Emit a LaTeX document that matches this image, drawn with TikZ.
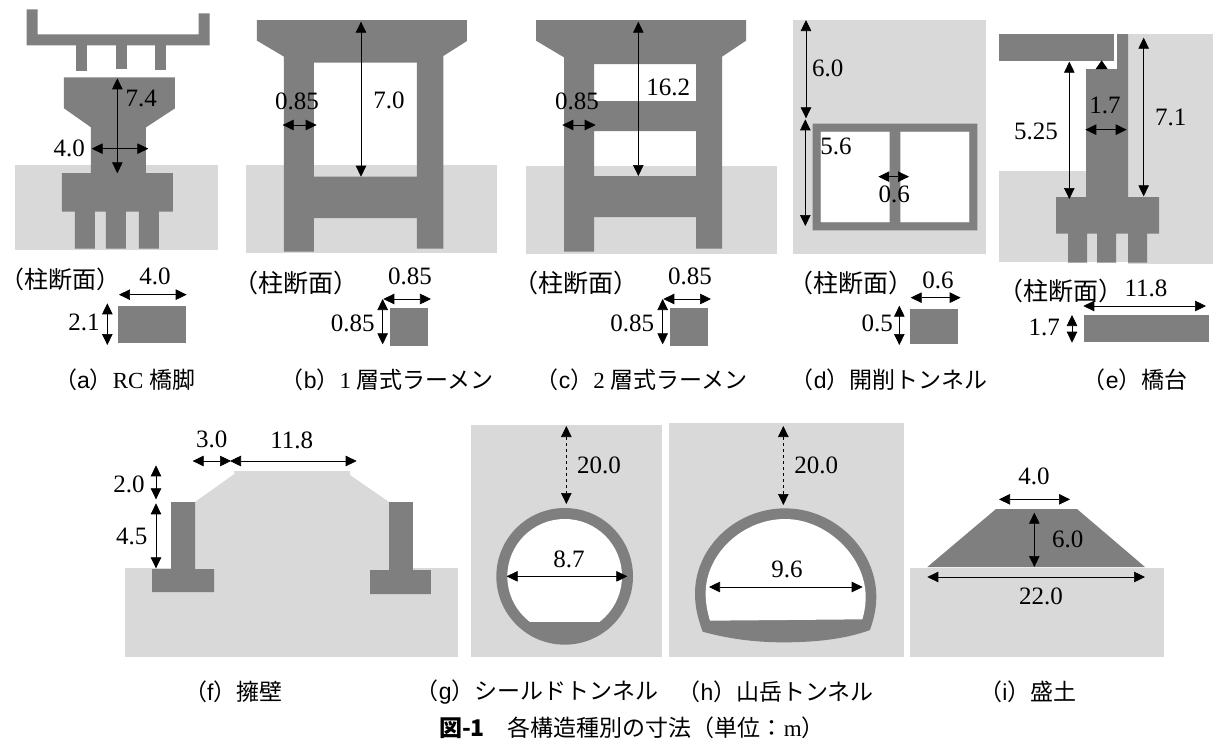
\documentclass[tikz,border=0pt]{standalone}
\usepackage{fontspec}
\usetikzlibrary{arrows.meta}
\setmainfont{Liberation Serif}
\setsansfont{Liberation Sans}
\newfontfamily\jpf{Noto Sans CJK JP}
\definecolor{conc}{HTML}{7F7F7F}
\definecolor{soil}{HTML}{D9D9D9}
\newcommand{\capt}[1]{{\jpf （}\textsf{#1}{\jpf ）}}
\tikzset{
  zoomed/.style n args={2}{shift={(#1,#2)},x=0.33333pt,y=-0.33333pt},
  soilfill/.style={fill=soil,draw=none},
  concfill/.style={fill=conc,draw=none,even odd rule},
  dimline/.style={{Triangle[length=11pt,width=10.5pt]}-{Triangle[length=11pt,width=10.5pt]},line width=0.7pt,black},
  lbl/.style={inner sep=0pt,font=\fontsize{25}{30}\selectfont},
  capn/.style={inner sep=0pt,font=\fontsize{23}{28}\selectfont},
  sec/.style={inner sep=0pt,font=\fontsize{25}{30}\selectfont\jpf}
}
\begin{document}
\begin{tikzpicture}[x=1pt,y=-1pt]
\useasboundingbox (0,0) rectangle (1213,740);
\fill[white] (0,0) rectangle (1213,740);

% ---------- panels a, b
\begin{scope}[zoomed={0}{0}]
\fill[soilfill] (45,495) rectangle (654,749);
\fill[concfill] (80,28)--(113,28)--(113,103)--(596,103)--(596,40)--(629,40)--(629,136)--(80,136)--cycle;
\fill[concfill] (227,136) rectangle (260,212);
\fill[concfill] (349,136) rectangle (382,207);
\fill[concfill] (465,136) rectangle (498,211);
\fill[concfill] (192,232)--(525,232)--(525,325)--(438,382)--(438,519)--(519,519)--(519,635)--(477,635)--(477,746)--(417,746)--(417,635)--(378,635)--(378,746)--(318,746)--(318,635)--(285,635)--(285,746)--(225,746)--(225,635)--(186,635)--(186,519)--(273,519)--(273,382)--(192,325)--cycle;
\fill[concfill] (354,918) rectangle (558,1028);
\draw[dimline] (352,235)--(352,520);
\draw[dimline] (275,446)--(445,446);
\draw[dimline] (357,884)--(560,884);
\draw[dimline] (322,910)--(322,1035);
\node[lbl] (a1) at (424,296) {7.4};
\node[lbl] (a2) at (208,445) {4.0};
\node[lbl] (a3) at (465,830) {4.0};
\node[lbl] (a4) at (252,967) {2.1};
\node[sec,font=\fontsize{24}{30}\selectfont\jpf] (a5) at (182,838) {（柱断面）};
\node[capn] (a6) at (374,1138) {\capt{a}RC {\jpf 橋脚}};
\end{scope}

\begin{scope}[zoomed={0}{0}]
\fill[soilfill] (738,495) rectangle (1491,758);
\fill[concfill] (771,60)--(1401,60)--(1401,123)--(1330,168)--(1330,746)--(1251,746)--(1251,654)--(942,654)--(942,755)--(852,755)--(852,170)--(771,122)--cycle
  (942,188) rectangle (1251,530);
\fill[concfill] (1170,924) rectangle (1284,1037);
\draw[dimline] (1083,65)--(1083,530);
\draw[dimline] (848,375)--(950,375);
\draw[dimline] (1150,897)--(1293,897);
\draw[dimline] (1148,897)--(1148,1033);
\node[lbl] (b1) at (1167,300) {7.0};
\node[lbl] (b2) at (891,305) {0.85};
\node[lbl] (b3) at (1230,830) {0.85};
\node[lbl] (b4) at (1058,970) {0.85};
\node[sec] (b5) at (888,850) {（柱断面）};
\node[capn] (b6) at (1162,1138) {\capt{b}1 {\jpf 層式ラーメン}};
\end{scope}

% ---------- panel c
\begin{scope}[zoomed={400}{0}]
\fill[soilfill] (378,498) rectangle (1131,762);
\fill[concfill] (408,60)--(1038,60)--(1038,122)--(966,170)--(966,746)--(888,746)--(888,651)--(582,651)--(582,755)--(492,755)--(492,172)--(408,122)--cycle
  (582,192) rectangle (888,303)
  (582,393) rectangle (888,528);
\fill[concfill] (810,924) rectangle (924,1037);
\draw[dimline] (715,65)--(715,528);
\draw[dimline] (487,375)--(587,375);
\draw[dimline] (790,897)--(933,897);
\draw[dimline] (788,897)--(788,1033);
\node[lbl] (c1) at (805,262) {16.2};
\node[lbl] (c2) at (531,305) {0.85};
\node[lbl] (c3) at (870,830) {0.85};
\node[lbl] (c4) at (697,970) {0.85};
\node[sec] (c5) at (527,850) {（柱断面）};
\node[capn] (c6) at (725,1138) {\capt{c}2 {\jpf 層式ラーメン}};
\end{scope}

% ---------- panels d, e
\begin{scope}[zoomed={790}{0}]
\fill[soilfill] (9,60) rectangle (588,762);
\fill[white] (92,395) rectangle (538,667);
\fill[concfill] (68,371) rectangle (562,691)
  (92,395) rectangle (299,667)
  (331,395) rectangle (538,667);
\fill[concfill] (360,927) rectangle (504,1031);
\draw[dimline] (48,60)--(48,355);
\draw[dimline] (46,358)--(46,678);
\draw[dimline] (265,530)--(357,530);
\draw[dimline] (362,893)--(512,893);
\draw[dimline] (328,917)--(328,1035);
\node[lbl] (d1) at (113,205) {6.0};
\node[lbl] (d2) at (138,440) {5.6};
\node[lbl] (d3) at (313,583) {0.6};
\node[lbl] (d4) at (444,840) {0.6};
\node[lbl] (d5) at (262,971) {0.5};
\node[sec] (d6) at (182,850) {（柱断面）};
\node[capn] (d7) at (297,1138) {\capt{d}{\jpf 開削トンネル}};

\fill[soilfill] (627,513) rectangle (1269,786);
\fill[soilfill] (1014,102) rectangle (1269,791);
\fill[concfill] (627,102) rectangle (972,183);
\fill[concfill] (981,102)--(1014,102)--(1014,591)--(1107,591)--(1107,701)--(1071,701)--(1071,788)--(1014,788)--(1014,701)--(978,701)--(978,788)--(921,788)--(921,701)--(891,701)--(891,788)--(834,788)--(834,701)--(798,701)--(798,591)--(888,591)--(888,207)--(981,207)--cycle;
\fill[black] (917,207)--(935,181)--(953,207)--cycle;
\fill[concfill] (882,945) rectangle (1257,1026);
\draw[dimline] (838,185)--(838,597);
\draw[dimline] (1061,113)--(1061,589);
\draw[dimline] (886,389)--(1010,389);
\draw[dimline] (880,918)--(1248,918);
\draw[dimline] (846,945)--(846,1028);
\node[lbl] (e1) at (738,395) {5.25};
\node[lbl] (e2) at (945,316) {1.7};
\node[lbl] (e3) at (1142,351) {7.1};
\node[lbl] (e4) at (1068,866) {11.8};
\node[lbl] (e5) at (763,983) {1.7};
\node[sec] (e6) at (813,873) {（柱断面）};
\node[capn] (e7) at (1036,1138) {\capt{e}{\jpf 橋台}};
\end{scope}

% ---------- panel f
\begin{scope}[zoomed={100}{400}]
\fill[soilfill] (75,504) rectangle (1074,770);
\fill[soilfill] (285,306)--(403,222)--(403,213)--(750,213)--(750,225)--(867,306)--(867,520)--(285,520)--cycle;
\fill[concfill] (213,306)--(285,306)--(285,507)--(342,507)--(342,576)--(156,576)--(156,507)--(213,507)--cycle;
\fill[concfill] (867,306)--(939,306)--(939,510)--(993,510)--(993,582)--(810,582)--(810,510)--(867,510)--cycle;
\draw[dimline] (278,183)--(393,183);
\draw[dimline] (390,183)--(770,183);
\draw[dimline] (168,196)--(168,298);
\draw[dimline] (168,310)--(168,505);
\node[lbl] (f1) at (335,118) {3.0};
\node[lbl] (f2) at (575,120) {11.8};
\node[lbl] (f3) at (87,252) {2.0};
\node[lbl] (f4) at (95,408) {4.5};
\node[capn] (f5) at (400,875) {\capt{f}{\jpf 擁壁}};
\end{scope}

% ---------- panels g, h
\begin{scope}[zoomed={460}{400}]
\fill[soilfill] (33,75) rectangle (606,770);
\fill[concfill] (314,529) circle[radius=205];
\begin{scope}
\clip (100,300) rectangle (530,663);
\fill[white] (314,529) circle[radius=172];
\end{scope}
\draw[dimline,dashed] (319,78)--(319,312);
\draw[dimline] (140,529)--(502,529);
\node[lbl] (g1) at (417,197) {20.0};
\node[lbl] (g2) at (327,478) {8.7};
\node[capn] (g3) at (231,875) {\capt{g}{\jpf シールドトンネル}};

\fill[soilfill] (627,69) rectangle (1332,770);
\fill[concfill] (728,695) .. controls (712,650) and (705,620) .. (705,580) .. controls (705,440) and (830,325) .. (975,325) .. controls (1125,325) and (1249,450) .. (1249,590) .. controls (1249,630) and (1240,660) .. (1230,690) .. controls (1150,720) and (1050,727) .. (970,727) .. controls (880,727) and (800,715) .. (728,695) -- cycle;
\fill[white] (750,662) .. controls (742,635) and (737,610) .. (737,580) .. controls (737,460) and (850,357) .. (975,357) .. controls (1100,357) and (1217,470) .. (1217,590) .. controls (1217,620) and (1212,640) .. (1207,658) -- cycle;
\draw[dimline,dashed] (970,78)--(970,315);
\draw[dimline] (747,561)--(1208,561);
\node[lbl] (h1) at (1069,197) {20.0};
\node[lbl] (h2) at (981,507) {9.6};
\node[capn] (h3) at (947,875) {\capt{h}{\jpf 山岳トンネル}};
\end{scope}

% ---------- panel i
\begin{scope}[zoomed={890}{400}]
\fill[soilfill] (60,504) rectangle (822,770);
\fill[concfill] (112,501)--(318,327)--(561,327)--(765,501)--cycle;
\draw[dimline] (327,298)--(540,298);
\draw[dimline] (433,338)--(433,501);
\draw[dimline] (112,531)--(765,531);
\node[lbl] (i1) at (432,228) {4.0};
\node[lbl] (i2) at (533,417) {6.0};
\node[lbl] (i3) at (453,588) {22.0};
\node[capn] (i4) at (414,875) {\capt{i}{\jpf 盛土}};
\end{scope}

\node[capn] (cap) at (632,728) {{\jpf\bfseries 図-1}{\jpf 　各構造種別の寸法（単位：}m{\jpf ）}};
\end{tikzpicture}
\end{document}
